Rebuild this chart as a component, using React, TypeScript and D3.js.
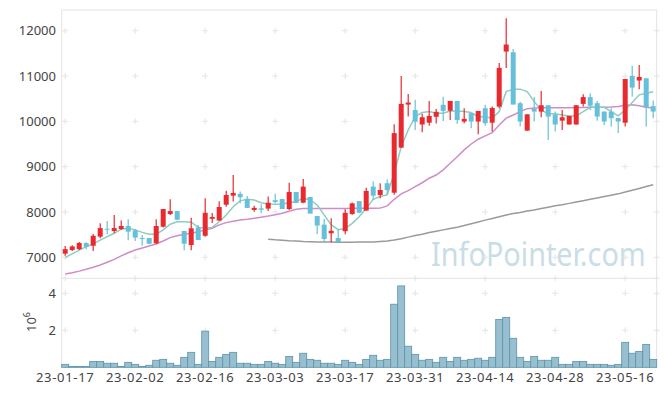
import * as d3 from "d3";

const dates = [
  "23-01-17", "23-01-18", "23-01-19", "23-01-20", "23-01-25", "23-01-26", "23-01-27", "23-01-30", "23-01-31", "23-02-01",
  "23-02-02", "23-02-03", "23-02-06", "23-02-07", "23-02-08", "23-02-09", "23-02-10", "23-02-13", "23-02-14", "23-02-15",
  "23-02-16", "23-02-17", "23-02-20", "23-02-21", "23-02-22", "23-02-23", "23-02-24", "23-02-27", "23-02-28", "23-03-02",
  "23-03-03", "23-03-06", "23-03-07", "23-03-08", "23-03-09", "23-03-10", "23-03-13", "23-03-14", "23-03-15", "23-03-16",
  "23-03-17", "23-03-20", "23-03-21", "23-03-22", "23-03-23", "23-03-24", "23-03-27", "23-03-28", "23-03-29", "23-03-30",
  "23-03-31", "23-04-03", "23-04-04", "23-04-05", "23-04-06", "23-04-07", "23-04-10", "23-04-11", "23-04-12", "23-04-13",
  "23-04-14", "23-04-17", "23-04-18", "23-04-19", "23-04-20", "23-04-21", "23-04-24", "23-04-25", "23-04-26", "23-04-27",
  "23-04-28", "23-05-02", "23-05-03", "23-05-04", "23-05-08", "23-05-09", "23-05-10", "23-05-11", "23-05-12", "23-05-15",
  "23-05-16", "23-05-17", "23-05-18", "23-05-19", "23-05-22",
];

const opens = [
  7080, 7160, 7180, 7315, 7255, 7455, 7630, 7580, 7625, 7690,
  7595, 7425, 7425, 7310, 7675, 7955, 8020, 7580, 7270, 7660,
  7475, 7850, 7810, 8160, 8360, 8400, 8285, 8045, 8080, 8075,
  8260, 8285, 8065, 8440, 8205, 8330, 7910, 7720, 7530, 7425,
  7575, 7955, 8240, 8030, 8560, 8375, 8635, 8425, 9420, 10370,
  10250, 9930, 9970, 10100, 10365, 10235, 10450, 9995, 10180, 9995,
  10290, 9970, 10325, 11540, 11525, 10400, 9795, 10275, 10215, 10355,
  10150, 10015, 9930, 9930, 10385, 10535, 10400, 10215, 10215, 10075,
  9970, 11005, 10900, 10950, 10335,
];
const highs = [
  7250, 7265, 7335, 7330, 7515, 7750, 7800, 7935, 7810, 7840,
  7625, 7490, 7425, 7840, 8065, 8280, 8020, 7580, 7875, 7715,
  8305, 7980, 8235, 8470, 8815, 8450, 8355, 8135, 8170, 8340,
  8400, 8285, 8645, 8440, 8730, 8330, 7910, 7845, 7860, 7625,
  8060, 8210, 8240, 8535, 8670, 8635, 8720, 9935, 11000, 10605,
  10475, 10165, 10450, 10275, 10545, 10450, 10450, 10290, 10180, 10230,
  10365, 10325, 11285, 12275, 11595, 10435, 10155, 10535, 10670, 10355,
  10215, 10250, 10120, 10355, 10600, 10620, 10450, 10215, 10290, 10075,
  10935, 11225, 11245, 10950, 10460,
];
const lows = [
  7035, 7140, 7160, 7180, 7140, 7420, 7510, 7530, 7600, 7375,
  7360, 7255, 7290, 7295, 7660, 7935, 7820, 7155, 7155, 7380,
  7455, 7755, 7810, 8115, 8230, 8190, 8090, 8005, 7970, 8020,
  8190, 8065, 8045, 8200, 8190, 7965, 7510, 7330, 7330, 7330,
  7510, 7940, 7970, 8030, 8265, 8305, 8375, 8380, 9420, 10105,
  9810, 9760, 9900, 9950, 10010, 10030, 9945, 9960, 9850, 9715,
  9900, 9775, 10290, 11175, 10370, 9885, 9795, 9995, 10090, 9590,
  9775, 9810, 9930, 9930, 10325, 10250, 10015, 9920, 9885, 9740,
  9885, 10545, 10710, 9885, 10070,
];
const closes = [
  7180, 7240, 7315, 7230, 7475, 7645, 7610, 7645, 7690, 7565,
  7435, 7410, 7300, 7690, 8065, 8020, 7830, 7300, 7640, 7380,
  7980, 7890, 8110, 8375, 8420, 8325, 8090, 8090, 8050, 8205,
  8220, 8065, 8440, 8200, 8560, 7965, 7700, 7405, 7585, 7330,
  7980, 8190, 7985, 8465, 8360, 8485, 8485, 9740, 10385, 10415,
  9995, 10090, 10120, 10210, 10230, 10450, 10030, 10055, 9995, 10230,
  9960, 10295, 11180, 11695, 10370, 9995, 10155, 10215, 10355, 10105,
  9930, 10090, 10120, 10355, 10535, 10345, 10105, 9995, 10070, 9995,
  10935, 10745, 10980, 10310, 10215,
];

const volumes = [
  160000, 50000, 50000, 50000, 320000, 320000, 220000, 220000, 40000, 270000,
  160000, 50000, 110000, 380000, 430000, 220000, 110000, 540000, 810000, 160000,
  1950000, 320000, 540000, 700000, 810000, 220000, 220000, 160000, 160000, 320000,
  220000, 160000, 590000, 270000, 760000, 430000, 380000, 220000, 220000, 160000,
  380000, 270000, 160000, 430000, 650000, 380000, 430000, 3410000, 4400000, 1140000,
  700000, 380000, 430000, 270000, 540000, 320000, 540000, 380000, 430000, 490000,
  380000, 540000, 2590000, 2700000, 1570000, 540000, 320000, 590000, 380000, 380000,
  540000, 160000, 160000, 320000, 320000, 160000, 160000, 160000, 110000, 160000,
  1350000, 760000, 860000, 1240000, 430000,
];

const ma5 = [
  7000, 7075, 7160, 7235, 7295, 7380, 7455, 7530, 7620, 7640,
  7605, 7550, 7510, 7510, 7605, 7730, 7785, 7785, 7775, 7660,
  7640, 7660, 7785, 7935, 8115, 8245, 8280, 8265, 8205, 8175,
  8170, 8175, 8205, 8230, 8305, 8265, 8155, 7935, 7715, 7610,
  7635, 7750, 7895, 8080, 8280, 8340, 8375, 8855, 9440, 9810,
  10105, 10195, 10215, 10180, 10180, 10230, 10230, 10215, 10195, 10100,
  10100, 10070, 10215, 10655, 10710, 10710, 10655, 10435, 10250, 10165,
  10165, 10140, 10120, 10120, 10215, 10310, 10310, 10310, 10215, 10120,
  10250, 10415, 10585, 10620, 10655,
];
const ma20 = [
  6630, 6660, 6695, 6735, 6780, 6830, 6890, 6955, 7030, 7100,
  7160, 7205, 7250, 7295, 7360, 7435, 7475, 7510, 7530, 7565,
  7605, 7640, 7715, 7765, 7795, 7825, 7840, 7860, 7885, 7910,
  7940, 7970, 8015, 8060, 8075, 8075, 8075, 8075, 8075, 8075,
  8075, 8080, 8080, 8080, 8080, 8085, 8135, 8280, 8400, 8470,
  8560, 8645, 8745, 8815, 8930, 9075, 9220, 9370, 9500, 9605,
  9680, 9750, 9920, 10070, 10140, 10215, 10280, 10295, 10300, 10300,
  10300, 10300, 10300, 10305, 10305, 10310, 10310, 10310, 10315, 10325,
  10355, 10365, 10345, 10310, 10295,
];
const maLong: (number | null)[] = [
  null, null, null, null, null, null, null, null, null, null,
  null, null, null, null, null, null, null, null, null, null,
  null, null, null, null, null, null, null, null, null, 7400,
  7385, 7375, 7365, 7360, 7350, 7345, 7340, 7340, 7335, 7330,
  7330, 7330, 7335, 7340, 7340, 7350, 7360, 7380, 7410, 7445,
  7480, 7510, 7545, 7575, 7605, 7635, 7665, 7700, 7740, 7780,
  7820, 7855, 7895, 7935, 7965, 7990, 8020, 8045, 8075, 8105,
  8135, 8160, 8190, 8220, 8250, 8280, 8310, 8340, 8370, 8400,
  8440, 8480, 8520, 8560, 8600,
];

const priceTicks = [7000, 8000, 9000, 10000, 11000, 12000];
const volumeTicks = [2000000, 4000000];
const dateTickIdx = [0, 10, 20, 30, 40, 50, 60, 70, 80];

const W = 665;
const H = 396;
const left = 61.7;
const right = 656.7;
const top = 10;
const split = 278.3;
const bottom = 367.3;

const UP = "#e8292e";
const DOWN = "#67c0d9";
const GRID = "#e4e4e4";
const TEXT = "#444";

export default function App() {
  const idx = d3.range(dates.length);
  const x = d3.scaleBand<number>().domain(idx).range([left, right]).padding(0);
  const bw = x.bandwidth();
  const cx = (i: number) => (x(i) as number) + bw / 2;
  const y = d3.scaleLinear().domain([7000, 12000]).range([257.3, 30.7]);
  const yv = d3.scaleLinear().domain([0, 4000000]).range([bottom, 293.3]);

  const line = d3
    .line<number | null>()
    .defined((d) => d != null)
    .x((_, i) => cx(i))
    .y((d) => y(d as number));

  const plus = (px: number, py: number, k: string) => (
    <g key={k} stroke={GRID} strokeWidth={1}>
      <line x1={px - 3} x2={px + 3} y1={py} y2={py} />
      <line x1={px} x2={px} y1={py - 3} y2={py + 3} />
    </g>
  );

  const gridYs = [...priceTicks.map((t) => y(t)), split, ...volumeTicks.map((t) => yv(t))];
  const gridXs = [...dateTickIdx.map(cx), right];

  return (
    <svg
      width={W}
      height={H}
      style={{ position: "absolute", left: 0, top: 0, background: "#fff" }}
      fontFamily="'Noto Sans', sans-serif"
    >
      <defs>
        <clipPath id="pricePanel">
          <rect x={left} y={top} width={right - left} height={split - top} />
        </clipPath>
      </defs>

      {/* watermark */}
      <text transform="translate(431,266) scale(0.9,1)" x={0} y={0} fontSize={32} fill="#c9dde7">
        InfoPointer.com
      </text>

      {/* frame */}
      <rect x={left} y={top} width={right - left} height={bottom - top} fill="none" stroke={GRID} />
      <line x1={left} x2={right} y1={split} y2={split} stroke={GRID} />

      {gridXs.flatMap((gx, a) => gridYs.map((gy, b) => plus(gx, gy, `p${a}-${b}`)))}

      {/* volume */}
      <g>
        {volumes.map((v, i) => (
          <rect
            key={i}
            x={x(i)}
            y={yv(v)}
            width={bw}
            height={bottom - yv(v)}
            fill="#97bfcf"
            stroke="#5b93ab"
            strokeWidth={0.8}
          />
        ))}
      </g>

      <g clipPath="url(#pricePanel)">
        <path d={line(maLong) ?? ""} fill="none" stroke="#9a9a9a" strokeWidth={1.5} />
        <path d={line(ma20) ?? ""} fill="none" stroke="#cf8dc8" strokeWidth={1.5} />
        <path d={line(ma5) ?? ""} fill="none" stroke="#8ccdc0" strokeWidth={1.5} />

        {idx.map((i) => {
          const up = closes[i] >= opens[i];
          const c = up ? UP : DOWN;
          const yTop = y(Math.max(opens[i], closes[i]));
          const yBot = y(Math.min(opens[i], closes[i]));
          return (
            <g key={i}>
              <line x1={cx(i)} x2={cx(i)} y1={y(highs[i])} y2={y(lows[i])} stroke={c} strokeWidth={1.2} />
              <rect x={cx(i) - 2.5} y={yTop} width={5} height={Math.max(1, yBot - yTop)} fill={c} />
            </g>
          );
        })}
      </g>

      {/* y axis labels */}
      <g fontSize={13} fill={TEXT} textAnchor="end">
        {priceTicks.map((t) => (
          <text key={t} x={56} y={y(t)} dy="0.35em">
            {t}
          </text>
        ))}
        {volumeTicks.map((t) => (
          <text key={t} x={56} y={yv(t)} dy="0.35em">
            {t / 1000000}
          </text>
        ))}
      </g>
      <text transform="translate(36,322) rotate(-90)" fontSize={13} fill={TEXT} textAnchor="middle">
        10<tspan fontSize={9} dy={-6}>6</tspan>
      </text>

      {/* x axis labels */}
      <g fontSize={13} fill={TEXT} textAnchor="middle">
        {dateTickIdx.map((i) => (
          <text key={i} x={cx(i)} y={382} letterSpacing={0.7}>
            {dates[i]}
          </text>
        ))}
      </g>
    </svg>
  );
}
